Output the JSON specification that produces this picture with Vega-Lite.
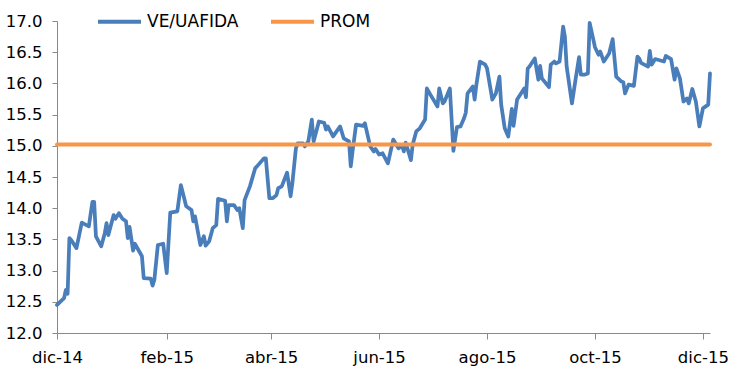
{
  "$schema": "https://vega.github.io/schema/vega-lite/v6.json",
  "width": 653,
  "height": 312,
  "autosize": "none",
  "padding": {"left": 57, "top": 21, "right": 29, "bottom": 53},
  "background": "white",
  "config": {
    "view": {"stroke": null},
    "font": "DejaVu Sans",
    "axis": {"grid": false, "domainColor": "#898989", "tickColor": "#898989", "labelColor": "#000000", "labelFont": "DejaVu Sans", "labelFontSize": 16.5, "title": null}
  },
  "data": {"values": [
    {"fecha": "2014-12-01", "valor": 12.45, "serie": "VE/UAFIDA"},
    {"fecha": "2014-12-05", "valor": 12.56, "serie": "VE/UAFIDA"},
    {"fecha": "2014-12-06", "valor": 12.69, "serie": "VE/UAFIDA"},
    {"fecha": "2014-12-07", "valor": 12.63, "serie": "VE/UAFIDA"},
    {"fecha": "2014-12-08", "valor": 13.52, "serie": "VE/UAFIDA"},
    {"fecha": "2014-12-09", "valor": 13.49, "serie": "VE/UAFIDA"},
    {"fecha": "2014-12-12", "valor": 13.36, "serie": "VE/UAFIDA"},
    {"fecha": "2014-12-15", "valor": 13.77, "serie": "VE/UAFIDA"},
    {"fecha": "2014-12-19", "valor": 13.71, "serie": "VE/UAFIDA"},
    {"fecha": "2014-12-21", "valor": 14.10, "serie": "VE/UAFIDA"},
    {"fecha": "2014-12-22", "valor": 14.10, "serie": "VE/UAFIDA"},
    {"fecha": "2014-12-23", "valor": 13.55, "serie": "VE/UAFIDA"},
    {"fecha": "2014-12-26", "valor": 13.39, "serie": "VE/UAFIDA"},
    {"fecha": "2014-12-28", "valor": 13.60, "serie": "VE/UAFIDA"},
    {"fecha": "2014-12-29", "valor": 13.76, "serie": "VE/UAFIDA"},
    {"fecha": "2014-12-30", "valor": 13.57, "serie": "VE/UAFIDA"},
    {"fecha": "2015-01-02", "valor": 13.89, "serie": "VE/UAFIDA"},
    {"fecha": "2015-01-03", "valor": 13.83, "serie": "VE/UAFIDA"},
    {"fecha": "2015-01-05", "valor": 13.92, "serie": "VE/UAFIDA"},
    {"fecha": "2015-01-07", "valor": 13.83, "serie": "VE/UAFIDA"},
    {"fecha": "2015-01-09", "valor": 13.79, "serie": "VE/UAFIDA"},
    {"fecha": "2015-01-10", "valor": 13.52, "serie": "VE/UAFIDA"},
    {"fecha": "2015-01-11", "valor": 13.70, "serie": "VE/UAFIDA"},
    {"fecha": "2015-01-13", "valor": 13.32, "serie": "VE/UAFIDA"},
    {"fecha": "2015-01-14", "valor": 13.43, "serie": "VE/UAFIDA"},
    {"fecha": "2015-01-18", "valor": 13.23, "serie": "VE/UAFIDA"},
    {"fecha": "2015-01-19", "valor": 12.88, "serie": "VE/UAFIDA"},
    {"fecha": "2015-01-23", "valor": 12.87, "serie": "VE/UAFIDA"},
    {"fecha": "2015-01-24", "valor": 12.76, "serie": "VE/UAFIDA"},
    {"fecha": "2015-01-25", "valor": 12.85, "serie": "VE/UAFIDA"},
    {"fecha": "2015-01-27", "valor": 13.41, "serie": "VE/UAFIDA"},
    {"fecha": "2015-01-30", "valor": 13.43, "serie": "VE/UAFIDA"},
    {"fecha": "2015-02-01", "valor": 12.96, "serie": "VE/UAFIDA"},
    {"fecha": "2015-02-03", "valor": 13.93, "serie": "VE/UAFIDA"},
    {"fecha": "2015-02-07", "valor": 13.95, "serie": "VE/UAFIDA"},
    {"fecha": "2015-02-09", "valor": 14.37, "serie": "VE/UAFIDA"},
    {"fecha": "2015-02-12", "valor": 14.03, "serie": "VE/UAFIDA"},
    {"fecha": "2015-02-15", "valor": 13.97, "serie": "VE/UAFIDA"},
    {"fecha": "2015-02-16", "valor": 13.79, "serie": "VE/UAFIDA"},
    {"fecha": "2015-02-17", "valor": 13.87, "serie": "VE/UAFIDA"},
    {"fecha": "2015-02-20", "valor": 13.41, "serie": "VE/UAFIDA"},
    {"fecha": "2015-02-22", "valor": 13.55, "serie": "VE/UAFIDA"},
    {"fecha": "2015-02-23", "valor": 13.40, "serie": "VE/UAFIDA"},
    {"fecha": "2015-02-25", "valor": 13.47, "serie": "VE/UAFIDA"},
    {"fecha": "2015-02-27", "valor": 13.68, "serie": "VE/UAFIDA"},
    {"fecha": "2015-03-01", "valor": 13.73, "serie": "VE/UAFIDA"},
    {"fecha": "2015-03-02", "valor": 14.15, "serie": "VE/UAFIDA"},
    {"fecha": "2015-03-06", "valor": 14.12, "serie": "VE/UAFIDA"},
    {"fecha": "2015-03-07", "valor": 13.79, "serie": "VE/UAFIDA"},
    {"fecha": "2015-03-08", "valor": 14.05, "serie": "VE/UAFIDA"},
    {"fecha": "2015-03-11", "valor": 14.05, "serie": "VE/UAFIDA"},
    {"fecha": "2015-03-13", "valor": 13.97, "serie": "VE/UAFIDA"},
    {"fecha": "2015-03-14", "valor": 14.00, "serie": "VE/UAFIDA"},
    {"fecha": "2015-03-16", "valor": 13.68, "serie": "VE/UAFIDA"},
    {"fecha": "2015-03-17", "valor": 14.13, "serie": "VE/UAFIDA"},
    {"fecha": "2015-03-20", "valor": 14.35, "serie": "VE/UAFIDA"},
    {"fecha": "2015-03-23", "valor": 14.64, "serie": "VE/UAFIDA"},
    {"fecha": "2015-03-24", "valor": 14.67, "serie": "VE/UAFIDA"},
    {"fecha": "2015-03-28", "valor": 14.80, "serie": "VE/UAFIDA"},
    {"fecha": "2015-03-29", "valor": 14.80, "serie": "VE/UAFIDA"},
    {"fecha": "2015-03-31", "valor": 14.16, "serie": "VE/UAFIDA"},
    {"fecha": "2015-04-02", "valor": 14.16, "serie": "VE/UAFIDA"},
    {"fecha": "2015-04-04", "valor": 14.21, "serie": "VE/UAFIDA"},
    {"fecha": "2015-04-05", "valor": 14.32, "serie": "VE/UAFIDA"},
    {"fecha": "2015-04-07", "valor": 14.35, "serie": "VE/UAFIDA"},
    {"fecha": "2015-04-10", "valor": 14.57, "serie": "VE/UAFIDA"},
    {"fecha": "2015-04-12", "valor": 14.19, "serie": "VE/UAFIDA"},
    {"fecha": "2015-04-13", "valor": 14.40, "serie": "VE/UAFIDA"},
    {"fecha": "2015-04-15", "valor": 14.96, "serie": "VE/UAFIDA"},
    {"fecha": "2015-04-16", "valor": 15.04, "serie": "VE/UAFIDA"},
    {"fecha": "2015-04-19", "valor": 15.04, "serie": "VE/UAFIDA"},
    {"fecha": "2015-04-20", "valor": 14.99, "serie": "VE/UAFIDA"},
    {"fecha": "2015-04-22", "valor": 15.07, "serie": "VE/UAFIDA"},
    {"fecha": "2015-04-24", "valor": 15.42, "serie": "VE/UAFIDA"},
    {"fecha": "2015-04-25", "valor": 15.07, "serie": "VE/UAFIDA"},
    {"fecha": "2015-04-28", "valor": 15.39, "serie": "VE/UAFIDA"},
    {"fecha": "2015-05-01", "valor": 15.37, "serie": "VE/UAFIDA"},
    {"fecha": "2015-05-02", "valor": 15.26, "serie": "VE/UAFIDA"},
    {"fecha": "2015-05-03", "valor": 15.31, "serie": "VE/UAFIDA"},
    {"fecha": "2015-05-06", "valor": 15.15, "serie": "VE/UAFIDA"},
    {"fecha": "2015-05-10", "valor": 15.31, "serie": "VE/UAFIDA"},
    {"fecha": "2015-05-12", "valor": 15.12, "serie": "VE/UAFIDA"},
    {"fecha": "2015-05-15", "valor": 15.07, "serie": "VE/UAFIDA"},
    {"fecha": "2015-05-16", "valor": 14.67, "serie": "VE/UAFIDA"},
    {"fecha": "2015-05-17", "valor": 14.91, "serie": "VE/UAFIDA"},
    {"fecha": "2015-05-19", "valor": 15.34, "serie": "VE/UAFIDA"},
    {"fecha": "2015-05-23", "valor": 15.32, "serie": "VE/UAFIDA"},
    {"fecha": "2015-05-24", "valor": 15.36, "serie": "VE/UAFIDA"},
    {"fecha": "2015-05-27", "valor": 14.99, "serie": "VE/UAFIDA"},
    {"fecha": "2015-05-29", "valor": 14.91, "serie": "VE/UAFIDA"},
    {"fecha": "2015-05-30", "valor": 14.95, "serie": "VE/UAFIDA"},
    {"fecha": "2015-06-01", "valor": 14.86, "serie": "VE/UAFIDA"},
    {"fecha": "2015-06-03", "valor": 14.88, "serie": "VE/UAFIDA"},
    {"fecha": "2015-06-06", "valor": 14.72, "serie": "VE/UAFIDA"},
    {"fecha": "2015-06-09", "valor": 15.10, "serie": "VE/UAFIDA"},
    {"fecha": "2015-06-12", "valor": 14.96, "serie": "VE/UAFIDA"},
    {"fecha": "2015-06-14", "valor": 15.00, "serie": "VE/UAFIDA"},
    {"fecha": "2015-06-15", "valor": 14.91, "serie": "VE/UAFIDA"},
    {"fecha": "2015-06-16", "valor": 15.05, "serie": "VE/UAFIDA"},
    {"fecha": "2015-06-17", "valor": 14.96, "serie": "VE/UAFIDA"},
    {"fecha": "2015-06-19", "valor": 14.77, "serie": "VE/UAFIDA"},
    {"fecha": "2015-06-20", "valor": 15.02, "serie": "VE/UAFIDA"},
    {"fecha": "2015-06-22", "valor": 15.23, "serie": "VE/UAFIDA"},
    {"fecha": "2015-06-24", "valor": 15.28, "serie": "VE/UAFIDA"},
    {"fecha": "2015-06-27", "valor": 15.42, "serie": "VE/UAFIDA"},
    {"fecha": "2015-06-28", "valor": 15.92, "serie": "VE/UAFIDA"},
    {"fecha": "2015-06-30", "valor": 15.82, "serie": "VE/UAFIDA"},
    {"fecha": "2015-07-04", "valor": 15.63, "serie": "VE/UAFIDA"},
    {"fecha": "2015-07-05", "valor": 15.92, "serie": "VE/UAFIDA"},
    {"fecha": "2015-07-07", "valor": 15.68, "serie": "VE/UAFIDA"},
    {"fecha": "2015-07-08", "valor": 15.71, "serie": "VE/UAFIDA"},
    {"fecha": "2015-07-11", "valor": 15.92, "serie": "VE/UAFIDA"},
    {"fecha": "2015-07-12", "valor": 15.42, "serie": "VE/UAFIDA"},
    {"fecha": "2015-07-13", "valor": 14.92, "serie": "VE/UAFIDA"},
    {"fecha": "2015-07-15", "valor": 15.30, "serie": "VE/UAFIDA"},
    {"fecha": "2015-07-17", "valor": 15.31, "serie": "VE/UAFIDA"},
    {"fecha": "2015-07-19", "valor": 15.44, "serie": "VE/UAFIDA"},
    {"fecha": "2015-07-20", "valor": 15.53, "serie": "VE/UAFIDA"},
    {"fecha": "2015-07-21", "valor": 15.84, "serie": "VE/UAFIDA"},
    {"fecha": "2015-07-24", "valor": 15.95, "serie": "VE/UAFIDA"},
    {"fecha": "2015-07-25", "valor": 15.74, "serie": "VE/UAFIDA"},
    {"fecha": "2015-07-26", "valor": 15.98, "serie": "VE/UAFIDA"},
    {"fecha": "2015-07-28", "valor": 16.35, "serie": "VE/UAFIDA"},
    {"fecha": "2015-07-31", "valor": 16.30, "serie": "VE/UAFIDA"},
    {"fecha": "2015-08-01", "valor": 16.24, "serie": "VE/UAFIDA"},
    {"fecha": "2015-08-04", "valor": 15.74, "serie": "VE/UAFIDA"},
    {"fecha": "2015-08-06", "valor": 15.84, "serie": "VE/UAFIDA"},
    {"fecha": "2015-08-08", "valor": 16.11, "serie": "VE/UAFIDA"},
    {"fecha": "2015-08-09", "valor": 15.66, "serie": "VE/UAFIDA"},
    {"fecha": "2015-08-11", "valor": 15.28, "serie": "VE/UAFIDA"},
    {"fecha": "2015-08-13", "valor": 15.15, "serie": "VE/UAFIDA"},
    {"fecha": "2015-08-15", "valor": 15.59, "serie": "VE/UAFIDA"},
    {"fecha": "2015-08-16", "valor": 15.32, "serie": "VE/UAFIDA"},
    {"fecha": "2015-08-18", "valor": 15.74, "serie": "VE/UAFIDA"},
    {"fecha": "2015-08-22", "valor": 15.92, "serie": "VE/UAFIDA"},
    {"fecha": "2015-08-23", "valor": 15.78, "serie": "VE/UAFIDA"},
    {"fecha": "2015-08-24", "valor": 16.24, "serie": "VE/UAFIDA"},
    {"fecha": "2015-08-25", "valor": 16.27, "serie": "VE/UAFIDA"},
    {"fecha": "2015-08-28", "valor": 16.40, "serie": "VE/UAFIDA"},
    {"fecha": "2015-08-30", "valor": 16.06, "serie": "VE/UAFIDA"},
    {"fecha": "2015-08-31", "valor": 16.28, "serie": "VE/UAFIDA"},
    {"fecha": "2015-09-01", "valor": 16.08, "serie": "VE/UAFIDA"},
    {"fecha": "2015-09-05", "valor": 15.94, "serie": "VE/UAFIDA"},
    {"fecha": "2015-09-06", "valor": 16.30, "serie": "VE/UAFIDA"},
    {"fecha": "2015-09-08", "valor": 16.35, "serie": "VE/UAFIDA"},
    {"fecha": "2015-09-09", "valor": 16.32, "serie": "VE/UAFIDA"},
    {"fecha": "2015-09-11", "valor": 16.35, "serie": "VE/UAFIDA"},
    {"fecha": "2015-09-13", "valor": 16.91, "serie": "VE/UAFIDA"},
    {"fecha": "2015-09-14", "valor": 16.75, "serie": "VE/UAFIDA"},
    {"fecha": "2015-09-15", "valor": 16.27, "serie": "VE/UAFIDA"},
    {"fecha": "2015-09-18", "valor": 15.68, "serie": "VE/UAFIDA"},
    {"fecha": "2015-09-20", "valor": 16.06, "serie": "VE/UAFIDA"},
    {"fecha": "2015-09-22", "valor": 16.42, "serie": "VE/UAFIDA"},
    {"fecha": "2015-09-23", "valor": 16.14, "serie": "VE/UAFIDA"},
    {"fecha": "2015-09-25", "valor": 16.14, "serie": "VE/UAFIDA"},
    {"fecha": "2015-09-27", "valor": 16.16, "serie": "VE/UAFIDA"},
    {"fecha": "2015-09-28", "valor": 16.97, "serie": "VE/UAFIDA"},
    {"fecha": "2015-10-01", "valor": 16.58, "serie": "VE/UAFIDA"},
    {"fecha": "2015-10-03", "valor": 16.46, "serie": "VE/UAFIDA"},
    {"fecha": "2015-10-04", "valor": 16.51, "serie": "VE/UAFIDA"},
    {"fecha": "2015-10-06", "valor": 16.35, "serie": "VE/UAFIDA"},
    {"fecha": "2015-10-09", "valor": 16.48, "serie": "VE/UAFIDA"},
    {"fecha": "2015-10-11", "valor": 16.71, "serie": "VE/UAFIDA"},
    {"fecha": "2015-10-13", "valor": 16.11, "serie": "VE/UAFIDA"},
    {"fecha": "2015-10-16", "valor": 16.03, "serie": "VE/UAFIDA"},
    {"fecha": "2015-10-17", "valor": 16.02, "serie": "VE/UAFIDA"},
    {"fecha": "2015-10-18", "valor": 15.84, "serie": "VE/UAFIDA"},
    {"fecha": "2015-10-20", "valor": 15.98, "serie": "VE/UAFIDA"},
    {"fecha": "2015-10-23", "valor": 15.96, "serie": "VE/UAFIDA"},
    {"fecha": "2015-10-25", "valor": 16.43, "serie": "VE/UAFIDA"},
    {"fecha": "2015-10-26", "valor": 16.40, "serie": "VE/UAFIDA"},
    {"fecha": "2015-10-27", "valor": 16.33, "serie": "VE/UAFIDA"},
    {"fecha": "2015-10-31", "valor": 16.27, "serie": "VE/UAFIDA"},
    {"fecha": "2015-11-01", "valor": 16.52, "serie": "VE/UAFIDA"},
    {"fecha": "2015-11-02", "valor": 16.30, "serie": "VE/UAFIDA"},
    {"fecha": "2015-11-04", "valor": 16.39, "serie": "VE/UAFIDA"},
    {"fecha": "2015-11-09", "valor": 16.35, "serie": "VE/UAFIDA"},
    {"fecha": "2015-11-10", "valor": 16.44, "serie": "VE/UAFIDA"},
    {"fecha": "2015-11-13", "valor": 16.39, "serie": "VE/UAFIDA"},
    {"fecha": "2015-11-15", "valor": 16.06, "serie": "VE/UAFIDA"},
    {"fecha": "2015-11-16", "valor": 16.24, "serie": "VE/UAFIDA"},
    {"fecha": "2015-11-18", "valor": 16.08, "serie": "VE/UAFIDA"},
    {"fecha": "2015-11-20", "valor": 15.71, "serie": "VE/UAFIDA"},
    {"fecha": "2015-11-22", "valor": 15.76, "serie": "VE/UAFIDA"},
    {"fecha": "2015-11-23", "valor": 15.68, "serie": "VE/UAFIDA"},
    {"fecha": "2015-11-25", "valor": 15.91, "serie": "VE/UAFIDA"},
    {"fecha": "2015-11-27", "valor": 15.71, "serie": "VE/UAFIDA"},
    {"fecha": "2015-11-29", "valor": 15.31, "serie": "VE/UAFIDA"},
    {"fecha": "2015-12-01", "valor": 15.60, "serie": "VE/UAFIDA"},
    {"fecha": "2015-12-04", "valor": 15.66, "serie": "VE/UAFIDA"},
    {"fecha": "2015-12-05", "valor": 16.16, "serie": "VE/UAFIDA"},
    {"fecha": "2014-12-01", "valor": 15.02, "serie": "PROM"},
    {"fecha": "2015-12-05", "valor": 15.02, "serie": "PROM"}
  ]},
  "encoding": {
    "x": {
      "field": "fecha", "type": "temporal",
      "scale": {"type": "utc", "domain": [{"year": 2014, "month": 12, "date": 1, "utc": true}, {"year": 2015, "month": 12, "date": 5, "utc": true}]},
      "axis": {
        "values": [
          {"year": 2014, "month": 12, "date": 1, "utc": true},
          {"year": 2015, "month": 2, "date": 1, "utc": true},
          {"year": 2015, "month": 4, "date": 1, "utc": true},
          {"year": 2015, "month": 6, "date": 1, "utc": true},
          {"year": 2015, "month": 8, "date": 1, "utc": true},
          {"year": 2015, "month": 10, "date": 1, "utc": true},
          {"year": 2015, "month": 12, "date": 1, "utc": true}
        ],
        "labelExpr": "['ene','feb','mar','abr','may','jun','jul','ago','sep','oct','nov','dic'][utcmonth(datum.value)] + '-' + utcFormat(datum.value, '%y')",
        "tickSize": 6, "labelPadding": 10, "labelFlush": false, "labelOverlap": false
      }
    },
    "y": {
      "field": "valor", "type": "quantitative",
      "scale": {"domain": [12, 17], "nice": false, "zero": false},
      "axis": {"values": [12, 12.5, 13, 13.5, 14, 14.5, 15, 15.5, 16, 16.5, 17], "format": ".1f", "tickSize": 5, "labelPadding": 10}
    },
    "color": {
      "field": "serie", "type": "nominal",
      "scale": {"domain": ["VE/UAFIDA", "PROM"], "range": ["#4a7ebb", "#f79646"]},
      "legend": {"orient": "none", "legendX": 39, "legendY": -23, "direction": "horizontal", "title": null, "symbolType": "stroke", "symbolSize": 1849, "symbolStrokeWidth": 4, "labelFontSize": 17, "labelFont": "DejaVu Sans", "labelColor": "#000000", "labelOffset": 4, "columnPadding": 24, "padding": 0}
    }
  },
  "layer": [
    {"transform": [{"filter": "datum.serie === 'VE/UAFIDA'"}], "mark": {"type": "line", "strokeWidth": 3.75, "strokeJoin": "round", "strokeCap": "round"}},
    {"transform": [{"filter": "datum.serie === 'PROM'"}], "mark": {"type": "line", "strokeWidth": 4, "strokeCap": "round"}}
  ]
}
